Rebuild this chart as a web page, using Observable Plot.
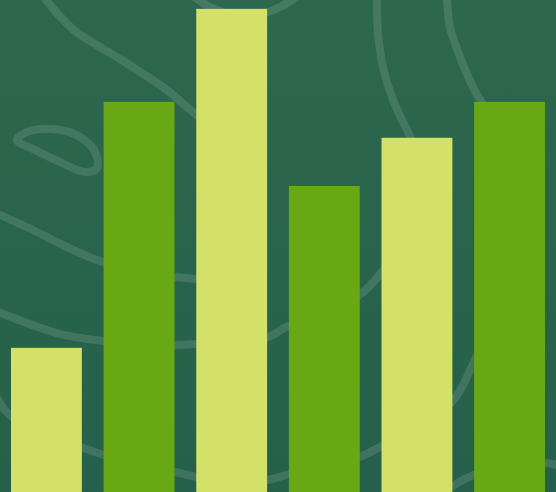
<!DOCTYPE html>
<html>
<head>
<meta charset="utf-8">
<script src="https://cdn.jsdelivr.net/npm/d3@7"></script>
<script src="https://cdn.jsdelivr.net/npm/@observablehq/plot@0.6"></script>
<style>
  html, body { margin: 0; padding: 0; }
  body { width: 556px; height: 492px; overflow: hidden;
         background: linear-gradient(#2d674d, #25604a); font-family: "Noto Sans", sans-serif; }
  #wrap { position: relative; width: 556px; height: 492px; }
  #decor, #chart { position: absolute; left: 0; top: 0; }
</style>
</head>
<body>
<div id="wrap"><div id="decor"></div><div id="chart"></div></div>
<script>
// Chart data
const categories = ["A", "B", "C", "D", "E", "F"];
const values = [29.3, 79.3, 98.2, 62.2, 72.0, 79.3];
const groups = ["light", "dark", "light", "dark", "light", "dark"];

const data = categories.map((c, i) => ({category: c, value: values[i], group: groups[i]}));

// Decorative background texture (not data)
const decorPaths = [
  {pts: [[43,-4],[57,13],[75,31],[95,44],[120,59],[145,75],[167,90],[187,107],[205,122]]},
  {pts: [[17,140],[30,131],[60,130],[80,137],[95,152],[97,168],[85,172],[60,162],[35,150]], closed: true},
  {pts: [[-4,213],[33,230],[67,247],[103,262],[175,277],[205,279]]},
  {pts: [[-4,311],[60,334],[104,341],[175,345],[197,344],[268,337],[286,327],[357,297],[385,268]]},
  {pts: [[-4,396],[11,416],[81,447],[104,455],[175,472],[197,477],[240,481],[268,480],[286,475],[357,458],[380,447],[451,403],[474,362],[485,340]]},
  {pts: [[440,494],[451,487],[474,475],[545,463],[560,466]]},
  {pts: [[377,-4],[378,33],[383,67],[393,100],[407,130],[415,145]]},
  {pts: [[447,-4],[450,27],[460,57],[473,87],[485,108]]},
  {pts: [[193,-4],[212,8],[240,16],[268,12],[282,6],[297,-4]]}
];
const dsvg = d3.select("#decor").append("svg").attr("width", 556).attr("height", 492);
for (const p of decorPaths) {
  const gen = d3.line().curve(p.closed ? d3.curveCatmullRomClosed : d3.curveCatmullRom);
  dsvg.append("path").attr("d", gen(p.pts)).attr("fill", "none")
    .attr("stroke", "rgba(255,255,255,0.12)").attr("stroke-width", 8)
    .attr("stroke-linecap", "round").attr("stroke-linejoin", "round");
}

const chart = Plot.plot({
  width: 556,
  height: 492,
  marginTop: 0, marginBottom: 0, marginLeft: 0, marginRight: 0,
  style: {background: "transparent"},
  x: {domain: categories, range: [11, 545], paddingInner: 0.235, paddingOuter: 0, round: false, axis: null},
  y: {domain: [0, 100], axis: null},
  color: {domain: ["light", "dark"], range: ["#d4e168", "#68a814"]},
  marks: [
    Plot.barY(data, {x: "category", y: "value", fill: "group"})
  ]
});
document.getElementById("chart").appendChild(chart);
</script>
</body>
</html>
